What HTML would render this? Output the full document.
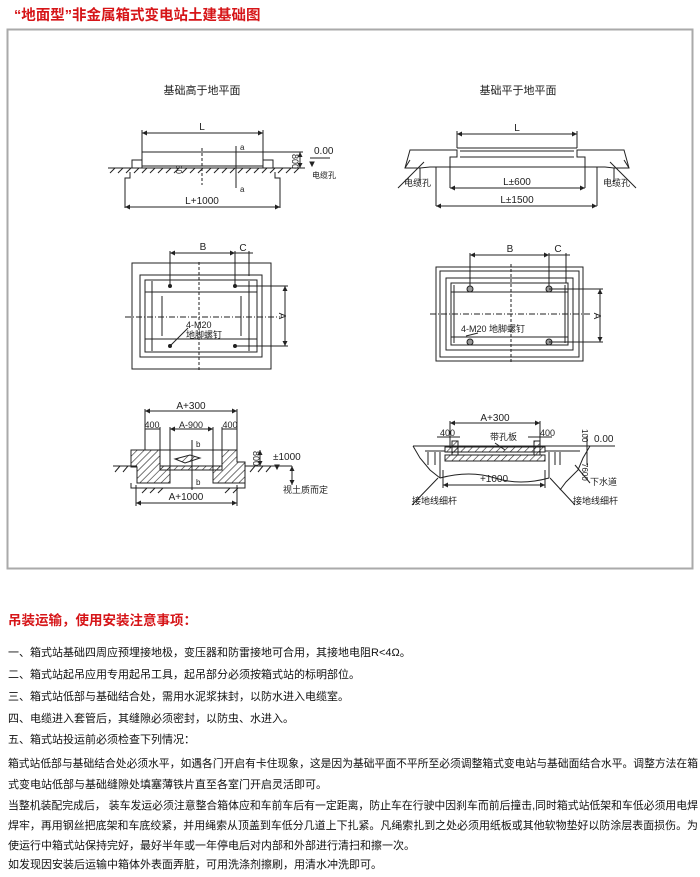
<!DOCTYPE html>
<html><head><meta charset="utf-8"><style>
body{margin:0;background:#fff;}
svg{display:block}
.t{font-family:"Liberation Sans","Noto Sans CJK SC",sans-serif;}
</style></head><body>
<svg width="700" height="877" viewBox="0 0 700 877" class="t" xmlns="http://www.w3.org/2000/svg">
<defs>
<pattern id="h" width="5" height="5" patternUnits="userSpaceOnUse" patternTransform="rotate(45)"><line x1="0" y1="0" x2="0" y2="5" stroke="#222" stroke-width="1.2"/></pattern>
<marker id="a" viewBox="0 0 6 6" refX="6" refY="3" markerWidth="5" markerHeight="5" orient="auto-start-reverse"><path d="M0,0L6,3L0,6z" fill="#222"/></marker>
</defs>
<text x="14" y="20" font-size="14.5" font-weight="bold" fill="#d61518">“地面型”非金属箱式变电站土建基础图</text>
<rect x="7.5" y="29.5" width="685" height="539" fill="none" stroke="#aaa" stroke-width="2"/>

<g stroke="#222" fill="none" stroke-width="1" font-size="10">
<!-- Diagram 1 -->
<text x="202" y="94" font-size="11" text-anchor="middle" fill="#222" stroke="none">基础高于地平面</text>
<line x1="142" y1="133" x2="263" y2="133" marker-start="url(#a)" marker-end="url(#a)"/>
<line x1="142" y1="130" x2="142" y2="152"/><line x1="263" y1="130" x2="263" y2="152"/>
<text x="202" y="130" fill="#222" stroke="none" text-anchor="middle">L</text>
<path d="M142,152H263V166H142Z"/>
<path d="M132,160h10v8h-10zM263,160h10v8h-10z"/>
<line x1="108" y1="168" x2="305" y2="168"/>
<path d="M110,173l5,-5M118,173l5,-5M126,173l5,-5M134,173l5,-5M142,173l5,-5M150,173l5,-5M158,173l5,-5M166,173l5,-5M174,173l5,-5M182,173l5,-5M190,173l5,-5M198,173l5,-5M206,173l5,-5M214,173l5,-5M222,173l5,-5M230,173l5,-5M238,173l5,-5M246,173l5,-5M254,173l5,-5M262,173l5,-5M270,173l5,-5M278,173l5,-5M286,173l5,-5M294,173l5,-5"/>
<path d="M130,172V178H125V208M275,172V178H280V208"/>
<line x1="202" y1="148" x2="202" y2="185" stroke-dasharray="3,2"/>
<line x1="236" y1="146" x2="236" y2="188"/>
<text x="240" y="150" fill="#222" stroke="none" font-size="8">a</text>
<text x="240" y="192" fill="#222" stroke="none" font-size="8">a</text>
<text x="176" y="165" fill="#222" stroke="none" font-size="8" transform="rotate(90 176 165)">50</text>
<line x1="125" y1="207" x2="280" y2="207" marker-start="url(#a)" marker-end="url(#a)"/>
<text x="202" y="204" fill="#222" stroke="none" text-anchor="middle">L+1000</text>
<line x1="300" y1="152" x2="300" y2="168" marker-start="url(#a)" marker-end="url(#a)"/>
<line x1="263" y1="152" x2="303" y2="152"/>
<text x="292" y="154" fill="#222" stroke="none" font-size="9" transform="rotate(90 292 154)">800</text>
<text x="314" y="154" fill="#222" stroke="none">0.00</text>
<line x1="310" y1="158" x2="330" y2="158"/><path d="M310,162l2,4l2,-4z" fill="#222"/>
<text x="312" y="178" fill="#222" stroke="none" font-size="8">电缆孔</text>

<!-- Diagram 2 -->
<text x="518" y="94" font-size="11" text-anchor="middle" fill="#222" stroke="none">基础平于地平面</text>
<line x1="457" y1="134" x2="577" y2="134" marker-start="url(#a)" marker-end="url(#a)"/>
<line x1="457" y1="131" x2="457" y2="148"/><line x1="577" y1="131" x2="577" y2="148"/>
<text x="517" y="131" fill="#222" stroke="none" text-anchor="middle">L</text>
<path d="M457,148H577M460,151H574M460,157H574M450,167H585"/>
<path d="M410,150H457V157H450V167H430L420,168H405ZM624,150H577V157H585V167H605L614,168H629Z"/>
<path d="M405,168L410,160M629,168L624,160M420,168V182M614,168V182M450,167V188M585,167V188M436,167V206M597,167V206"/>
<line x1="450" y1="188" x2="585" y2="188" marker-start="url(#a)" marker-end="url(#a)"/>
<text x="517" y="185" fill="#222" stroke="none" text-anchor="middle">L±600</text>
<line x1="436" y1="206" x2="597" y2="206" marker-start="url(#a)" marker-end="url(#a)"/>
<text x="517" y="203" fill="#222" stroke="none" text-anchor="middle">L±1500</text>
<path d="M424,162L398,188M610,162L636,188"/>
<text x="404" y="186" fill="#222" stroke="none" font-size="9">电缆孔</text>
<text x="603" y="186" fill="#222" stroke="none" font-size="9">电缆孔</text>

<!-- Diagram 3 -->
<rect x="132" y="263" width="139" height="106"/>
<rect x="140" y="275" width="122" height="82"/>
<rect x="145" y="280" width="112" height="72"/>
<path d="M152,281V351M249,281V351M145,292H257M145,339H257M162,296V336M241,296V336"/>
<line x1="199" y1="262" x2="199" y2="370" stroke-dasharray="3,2"/>
<line x1="125" y1="317" x2="280" y2="317" stroke-dasharray="6,2,1,2"/>
<line x1="170" y1="253" x2="235" y2="253" marker-start="url(#a)" marker-end="url(#a)"/>
<line x1="235" y1="253" x2="253" y2="253"/>
<path d="M170,251V286M235,251V286M249,251V276"/>
<text x="203" y="250" fill="#222" stroke="none" text-anchor="middle">B</text>
<text x="243" y="251" fill="#222" stroke="none" text-anchor="middle">C</text>
<circle cx="170" cy="286" r="1.5" fill="#222"/><circle cx="235" cy="286" r="1.5" fill="#222"/>
<circle cx="170" cy="346" r="1.5" fill="#222"/><circle cx="235" cy="346" r="1.5" fill="#222"/>
<path d="M235,286H288M235,346H288"/>
<line x1="285" y1="286" x2="285" y2="346" marker-start="url(#a)" marker-end="url(#a)"/>
<text x="279" y="316" fill="#222" stroke="none" transform="rotate(90 279 316)" text-anchor="middle">A</text>
<line x1="170" y1="346" x2="188" y2="328"/>
<text x="186" y="328" fill="#222" stroke="none" font-size="9">4-M20</text>
<text x="186" y="338" fill="#222" stroke="none" font-size="9">地脚螺钉</text>

<!-- Diagram 4 -->
<rect x="436" y="267" width="147" height="94"/>
<rect x="440" y="271" width="139" height="86"/>
<rect x="446" y="278" width="127" height="72"/>
<rect x="451" y="283" width="117" height="62"/>
<path d="M454,285V343M565,285V343M451,292H568M451,337H568"/>
<line x1="511" y1="264" x2="511" y2="364" stroke-dasharray="3,2"/>
<line x1="430" y1="314" x2="590" y2="314" stroke-dasharray="6,2,1,2"/>
<line x1="470" y1="255" x2="549" y2="255" marker-start="url(#a)" marker-end="url(#a)"/>
<line x1="549" y1="255" x2="570" y2="255"/>
<path d="M470,253V289M549,253V289M566,253V283"/>
<text x="510" y="252" fill="#222" stroke="none" text-anchor="middle">B</text>
<text x="558" y="252" fill="#222" stroke="none" text-anchor="middle">C</text>
<circle cx="470" cy="289" r="3" fill="#999"/><circle cx="549" cy="289" r="3" fill="#999"/>
<circle cx="470" cy="342" r="3" fill="#999"/><circle cx="549" cy="342" r="3" fill="#999"/>
<path d="M549,289H603M549,342H603"/>
<line x1="600" y1="289" x2="600" y2="342" marker-start="url(#a)" marker-end="url(#a)"/>
<text x="594" y="316" fill="#222" stroke="none" transform="rotate(90 594 316)" text-anchor="middle">A</text>
<line x1="466" y1="336" x2="478" y2="333"/>
<text x="461" y="332" fill="#222" stroke="none" font-size="9">4-M20 地脚螺钉</text>

<!-- Diagram 5 -->
<line x1="145" y1="411" x2="237" y2="411" marker-start="url(#a)" marker-end="url(#a)"/>
<text x="191" y="409" fill="#222" stroke="none" text-anchor="middle">A+300</text>
<path d="M145,409V450M237,409V450M160,427V450M222,427V450M170,427V468M213,427V468"/>
<line x1="145" y1="429" x2="160" y2="429"/><line x1="222" y1="429" x2="237" y2="429"/>
<line x1="170" y1="429" x2="213" y2="429" marker-start="url(#a)" marker-end="url(#a)"/>
<text x="152" y="428" fill="#222" stroke="none" font-size="9" text-anchor="middle">400</text>
<text x="230" y="428" fill="#222" stroke="none" font-size="9" text-anchor="middle">400</text>
<text x="191" y="428" fill="#222" stroke="none" font-size="9" text-anchor="middle">A-900</text>
<path d="M145,450H160V466H170V483H137V467H131V450Z" fill="url(#h)"/>
<path d="M222,450H237V462H245V483H213V466H222Z" fill="url(#h)"/>
<path d="M160,466H222V470H160Z" fill="url(#h)"/>
<path d="M160,450H222"/>
<path d="M113,466H137M245,466H292M131,483V488H245V483"/>
<path d="M115,472l5,-6M123,472l5,-6M250,472l5,-6M258,472l5,-6M266,472l5,-6M142,493l5,-5M150,493l5,-5M158,493l5,-5M225,493l5,-5M233,493l5,-5"/>
<line x1="192" y1="440" x2="192" y2="490"/>
<text x="196" y="447" fill="#222" stroke="none" font-size="8">b</text>
<text x="196" y="485" fill="#222" stroke="none" font-size="8">b</text>
<path d="M175,459l15,-4l10,3l-15,5z" fill="url(#h)"/>
<line x1="260" y1="450" x2="260" y2="466" marker-start="url(#a)" marker-end="url(#a)"/>
<text x="253" y="451" fill="#222" stroke="none" font-size="9" transform="rotate(90 253 451)">800</text>
<text x="273" y="460" fill="#222" stroke="none">±1000</text>
<path d="M275,465l2,4l2,-4z" fill="#222"/>
<line x1="292" y1="466" x2="292" y2="485" marker-start="url(#a)" marker-end="url(#a)"/>
<text x="283" y="493" fill="#222" stroke="none" font-size="9">视土质而定</text>
<path d="M136,485V506M237,485V506"/>
<line x1="136" y1="503" x2="237" y2="503" marker-start="url(#a)" marker-end="url(#a)"/>
<text x="186" y="500" fill="#222" stroke="none" text-anchor="middle">A+1000</text>

<!-- Diagram 6 -->
<line x1="450" y1="423" x2="540" y2="423" marker-start="url(#a)" marker-end="url(#a)"/>
<text x="495" y="421" fill="#222" stroke="none" text-anchor="middle">A+300</text>
<path d="M450,421V448M540,421V448"/>
<path d="M437,437H460M528,437H552"/>
<text x="440" y="436" fill="#222" stroke="none" font-size="9">400</text>
<text x="540" y="436" fill="#222" stroke="none" font-size="9">400</text>
<text x="490" y="440" fill="#222" stroke="none" font-size="9">带孔板</text>
<line x1="495" y1="443" x2="505" y2="450"/>
<path d="M413,446H590L583,458L578,470L566,482L560,490M413,446L420,458L430,470L440,478"/>
<path d="M445,447H545V452H445Z" fill="url(#h)"/>
<path d="M445,455H545V461H445Z" fill="url(#h)"/>
<path d="M452,441H458V455H452ZM534,441H540V455H534Z" fill="url(#h)"/>
<path d="M425,451H445M545,451H580M428,452V465M435,452V465M555,452V465M560,452V465"/>
<path d="M440,452V478M549,452V478"/>
<path d="M440,478Q470,470 495,478T549,478"/>
<line x1="443" y1="485" x2="545" y2="485" marker-start="url(#a)" marker-end="url(#a)"/>
<path d="M443,470V488M545,470V488"/>
<text x="494" y="482" fill="#222" stroke="none" text-anchor="middle">+1000</text>
<path d="M438,478L412,505M550,478L575,505"/>
<text x="412" y="504" fill="#222" stroke="none" font-size="9">接地线细杆</text>
<text x="573" y="504" fill="#222" stroke="none" font-size="9">接地线细杆</text>
<line x1="587" y1="436" x2="587" y2="465"/>
<text x="582" y="429" fill="#222" stroke="none" font-size="8" transform="rotate(90 582 429)">100</text>
<text x="582" y="463" fill="#222" stroke="none" font-size="8" transform="rotate(90 582 463)">7600</text>
<text x="594" y="442" fill="#222" stroke="none">0.00</text>
<line x1="590" y1="446" x2="615" y2="446"/>
<text x="590" y="485" fill="#222" stroke="none" font-size="9">下水道</text>
<line x1="575" y1="465" x2="590" y2="483"/>
</g>

<g font-size="11" fill="#111">
<text x="8" y="625" font-size="13.5" font-weight="bold" fill="#d61518">吊装运输，使用安装注意事项：</text>
<text x="8" y="656">一、箱式站基础四周应预埋接地极，变压器和防雷接地可合用，其接地电阻R&lt;4Ω。</text>
<text x="8" y="678">二、箱式站起吊应用专用起吊工具，起吊部分必须按箱式站的标明部位。</text>
<text x="8" y="700">三、箱式站低部与基础结合处，需用水泥浆抹封，以防水进入电缆室。</text>
<text x="8" y="722">四、电缆进入套管后，其缝隙必须密封，以防虫、水进入。</text>
<text x="8" y="743">五、箱式站投运前必须检查下列情况：</text>
<text x="8" y="767" textLength="690" lengthAdjust="spacingAndGlyphs">箱式站低部与基础结合处必须水平，如遇各门开启有卡住现象，这是因为基础平面不平所至必须调整箱式变电站与基础面结合水平。调整方法在箱</text>
<text x="8" y="788">式变电站低部与基础缝隙处填塞薄铁片直至各室门开启灵活即可。</text>
<text x="8" y="809" textLength="690" lengthAdjust="spacingAndGlyphs">当整机装配完成后， 装车发运必须注意整合箱体应和车前车后有一定距离，防止车在行驶中因刹车而前后撞击,同时箱式站低架和车低必须用电焊</text>
<text x="8" y="829" textLength="690" lengthAdjust="spacingAndGlyphs">焊牢，再用钢丝把底架和车底绞紧，并用绳索从顶盖到车低分几道上下扎紧。凡绳索扎到之处必须用纸板或其他软物垫好以防涂层表面损伤。为</text>
<text x="8" y="849">使运行中箱式站保持完好，最好半年或一年停电后对内部和外部进行清扫和擦一次。</text>
<text x="8" y="868">如发现因安装后运输中箱体外表面弄脏，可用洗涤剂擦刷，用清水冲洗即可。</text>
</g>
</svg>
</body></html>
